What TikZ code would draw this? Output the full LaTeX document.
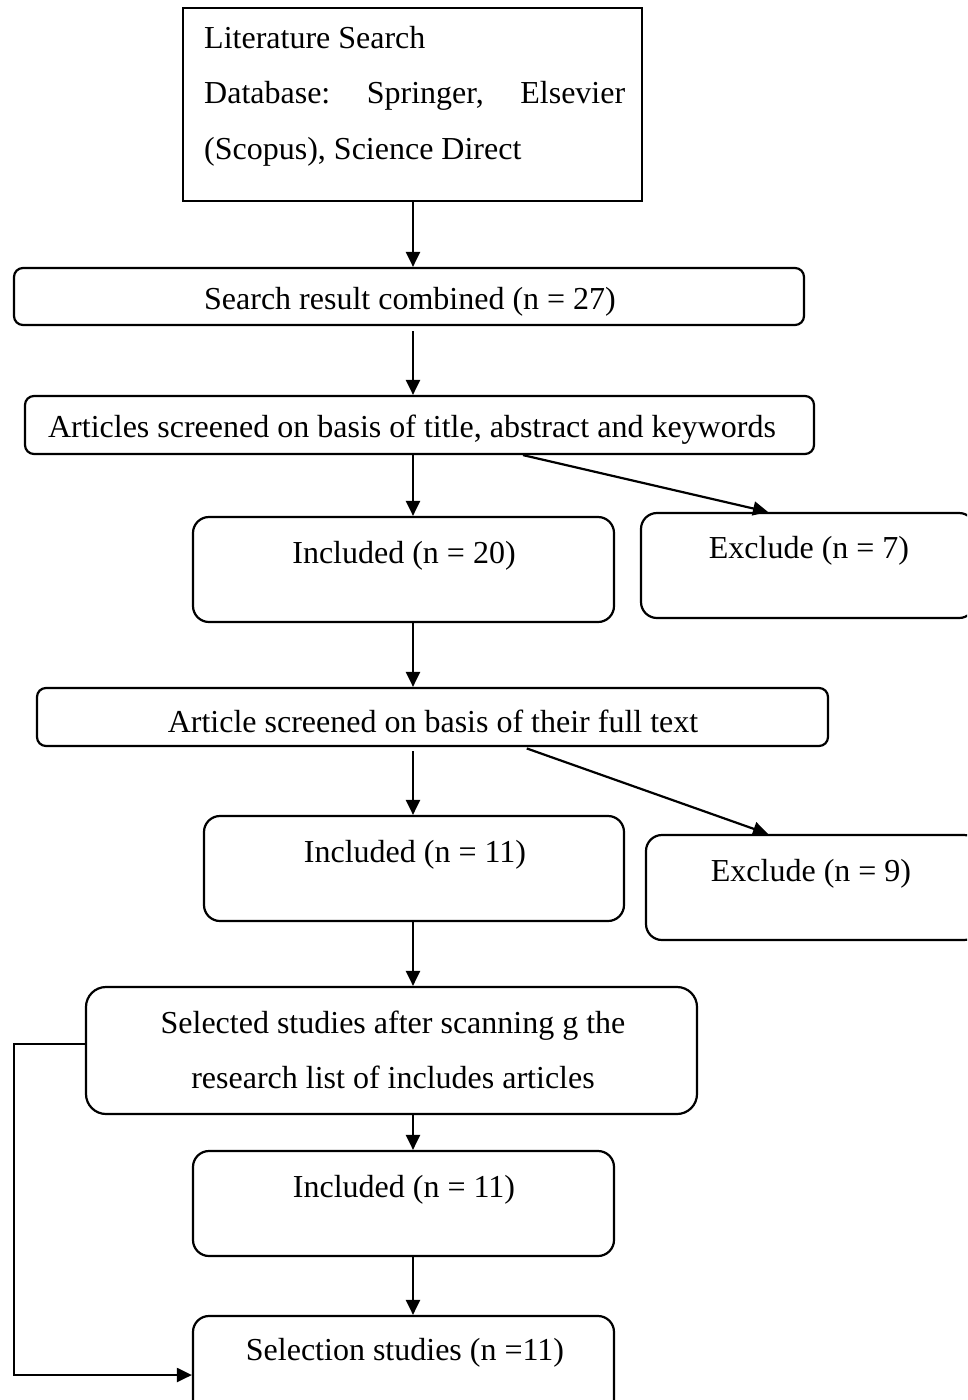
\documentclass[tikz,border=0pt]{standalone}
\usepackage{fontspec}
\setmainfont{Liberation Serif}
\usetikzlibrary{arrows.meta,calc}
\begin{document}
\begin{tikzpicture}[x=1pt,y=-1pt,
  boxsq/.style={draw,line width=2.2pt,inner sep=0pt,rectangle},
  boxthin/.style={draw,line width=2.2pt,inner sep=0pt,rectangle,rounded corners=9pt},
  boxtall/.style={draw,line width=2.2pt,inner sep=0pt,rectangle,rounded corners=16pt},
  txt/.style={inner sep=0pt,anchor=base,font=\fontsize{32}{55}\selectfont},
  txtl/.style={txt,anchor=base west},
  arr/.style={line width=2.2pt,-{Triangle[length=15pt,width=14pt]}}]
\useasboundingbox (0,0) rectangle (967,1400);
\clip (0,0) rectangle (967,1400);
% boxes
\node[boxsq,minimum width=459pt,minimum height=193pt] (b1) at (412.5,104.5) {};
\node[boxthin,minimum width=790pt,minimum height=57pt] (b2) at (409,296.5) {};
\node[boxthin,minimum width=789pt,minimum height=58pt] (b3) at (419.5,425) {};
\node[boxtall,minimum width=421pt,minimum height=105pt] (b4) at (403.5,569.5) {};
\node[boxtall,minimum width=334pt,minimum height=105pt] (b5) at (808,565.5) {};
\node[boxthin,minimum width=791pt,minimum height=58pt] (b6) at (432.5,717) {};
\node[boxtall,minimum width=420pt,minimum height=105pt] (b7) at (414,868.5) {};
\node[boxtall,minimum width=334pt,minimum height=105pt] (b8) at (813,887.5) {};
\node[boxsq,rounded corners=20pt,minimum width=611pt,minimum height=127pt] (b9) at (391.5,1050.5) {};
\node[boxtall,minimum width=421pt,minimum height=105pt] (b10) at (403.5,1203.5) {};
\node[boxtall,minimum width=421pt,minimum height=114pt] (b11) at (403.5,1373) {};
% texts
\node[txtl] (t1a) at (204,48) {Literature Search};
\node[txtl] (t1b) at (204,103) {\makebox[421pt][s]{Database:\hfill Springer,\hfill Elsevier}};
\node[txtl] (t1c) at (204,159) {(Scopus), Science Direct};
\node[txt] (t2) at (410,309) {Search result combined (n = 27)};
\node[txt] (t3) at (412,437) {Articles screened on basis of title, abstract and keywords};
\node[txt] (t4) at (404,563) {Included (n = 20)};
\node[txt] (t5) at (809,558) {Exclude (n = 7)};
\node[txt] (t6) at (433,732) {Article screened on basis of their full text};
\node[txt] (t7) at (415,862) {Included (n = 11)};
\node[txt] (t8) at (811,881) {Exclude (n = 9)};
\node[txt] (t9a) at (393,1033) {Selected studies after scanning g the};
\node[txt] (t9b) at (393,1088) {research list of includes articles};
\node[txt] (t10) at (404,1197) {Included (n = 11)};
\node[txt] (t11) at (405,1360) {Selection studies (n =11)};
% connector helpers
\coordinate (col) at (413,0);
\coordinate (d1) at (523,0);
\coordinate (e1) at (768,0);
\coordinate (lp) at (0,1044);
\coordinate (lc) at (14,1375);
% connectors
\draw[arr] (b1.south -| col) -- (b2.north -| col);
\draw[arr,shorten <=5pt] (b2.south -| col) -- (b3.north -| col);
\draw[arr] (b3.south -| col) -- (b4.north -| col);
\draw[arr] (b3.south -| d1) -- (b5.north -| e1);
\draw[arr] (b4.south -| col) -- (b6.north -| col);
\draw[arr,shorten <=4pt] (b6.south -| col) -- (b7.north -| col);
\draw[arr,shorten <=4pt] (b6.south -| d1) -- (b8.north -| e1);
\draw[arr] (b7.south -| col) -- (b9.north -| col);
\draw[arr] (b9.south -| col) -- (b10.north -| col);
\draw[arr] (b10.south -| col) -- (b11.north -| col);
\draw[arr] (b9.west |- lp) -| (lc) -- (b11.west |- lc);
\end{tikzpicture}
\end{document}
